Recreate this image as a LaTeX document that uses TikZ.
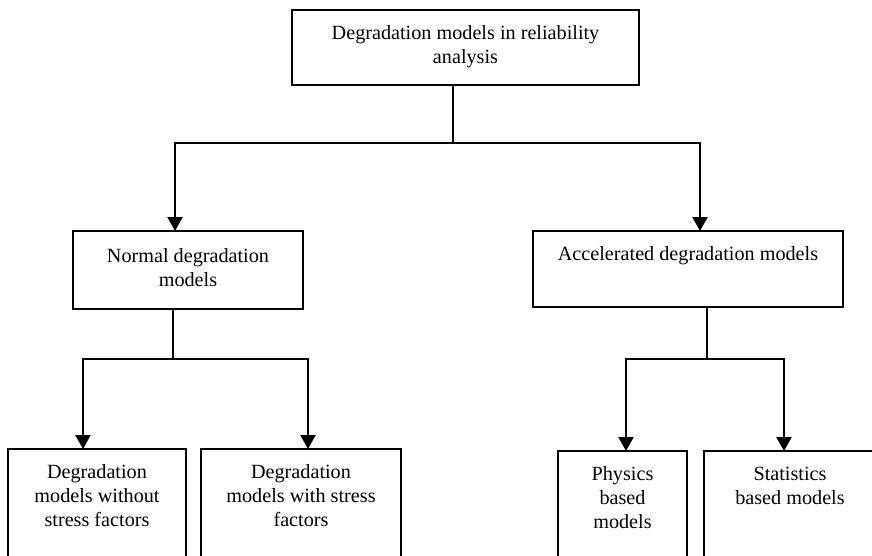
\documentclass[tikz,border=0pt]{standalone}
\usepackage{fontspec}
\setmainfont{Liberation Serif}
\usetikzlibrary{arrows.meta}

% box text: width, height, first-baseline offset, text
\newcommand{\boxtext}[4]{\parbox[c][#2][t]{#1}{\centering\rule{0pt}{#3}\ignorespaces#4\par}}

\begin{document}
\begin{tikzpicture}[x=1pt,y=-1pt,
  box/.style={draw, line width=1.5pt, inner sep=0pt, outer sep=0pt, anchor=north west,
    font=\fontsize{20.2}{24}\selectfont},
  stem/.style={line width=1.3pt},
  branch/.style={line width=2.2pt, -{Triangle[length=14pt,width=15pt]}, line join=miter}]
\useasboundingbox (0,0) rectangle (872,555);
\clip (0,0) rectangle (872,555);
\fill[white] (0,0) rectangle (872,555);

% boxes
\node[box] (root) at (292,10) {\boxtext{347pt}{75pt}{29pt}{Degradation models in reliability\\analysis}};
\node[box] (normal) at (73,231) {\boxtext{230pt}{78pt}{31pt}{Normal degradation\\models}};
\node[box] (accel) at (533,231) {\boxtext{310pt}{76pt}{29pt}{Accelerated degradation models}};
\node[box] (nostress) at (8,449) {\boxtext{178pt}{130pt}{29pt}{Degradation\\models without\\stress factors}};
\node[box] (stress) at (201,449) {\boxtext{200pt}{130pt}{29pt}{Degradation\\models with stress\\factors}};
\node[box] (phys) at (558,451) {\boxtext{129pt}{130pt}{29pt}{Physics\\based\\models}};
\node[box] (stat) at (704,451) {\boxtext{172pt}{130pt}{29pt}{Statistics\\based models}};

% junction points
\coordinate (j0) at (453,143);
\coordinate (j1) at (173,359);
\coordinate (j2) at (707,359);

% root to first level
\draw[stem] (root.south -| j0) -- (j0);
\draw[branch] (j0) -- (j0 -| 175,0) -- (normal.north -| 175,0);
\draw[branch] (j0) -- (j0 -| 700,0) -- (accel.north -| 700,0);

% normal degradation branch
\draw[stem] (normal.south -| j1) -- (j1);
\draw[branch] (j1) -- (j1 -| 83,0) -- (nostress.north -| 83,0);
\draw[branch] (j1) -- (j1 -| 308,0) -- (stress.north -| 308,0);

% accelerated degradation branch
\draw[stem] (accel.south -| j2) -- (j2);
\draw[branch] (j2) -- (j2 -| 626,0) -- (phys.north -| 626,0);
\draw[branch] (j2) -- (j2 -| 784,0) -- (stat.north -| 784,0);
\end{tikzpicture}
\end{document}
